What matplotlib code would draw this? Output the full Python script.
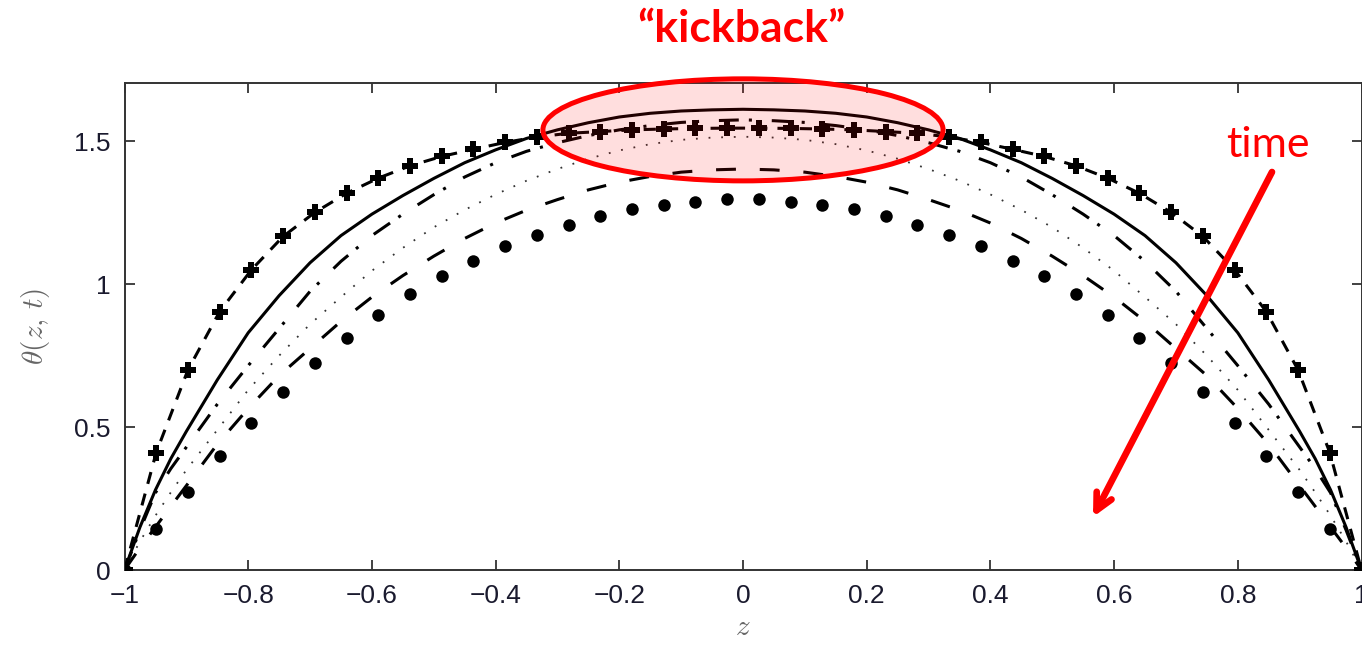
import numpy as np
import matplotlib
matplotlib.use("Agg")
import matplotlib.pyplot as plt
from matplotlib.patches import Ellipse

plt.rcParams['font.family'] = ['Liberation Sans', 'DejaVu Sans']
plt.rcParams['mathtext.fontset'] = 'cm'

# ---- data ----
# marker series are sampled on 40 evenly spaced z values
z_markers = np.linspace(-1, 1, 40)
theta_plus = [0, 0.411, 0.700, 0.904, 1.050, 1.167, 1.251, 1.318, 1.371, 1.414,
              1.447, 1.472, 1.496, 1.515, 1.528, 1.534, 1.540, 1.543, 1.545, 1.546,
              1.546, 1.545, 1.543, 1.540, 1.534, 1.528, 1.515, 1.496, 1.472, 1.447,
              1.414, 1.371, 1.318, 1.251, 1.167, 1.050, 0.904, 0.700, 0.411, 0]
theta_dots = [0, 0.142, 0.274, 0.399, 0.513, 0.624, 0.723, 0.812, 0.893, 0.965,
              1.027, 1.082, 1.132, 1.173, 1.208, 1.237, 1.262, 1.278, 1.289, 1.297,
              1.297, 1.289, 1.278, 1.262, 1.237, 1.208, 1.173, 1.132, 1.082, 1.027,
              0.965, 0.893, 0.812, 0.723, 0.624, 0.513, 0.399, 0.274, 0.142, 0]

# line series (z values with extra samples near the ends)
z_lines = [-1, -0.975, -0.95, -0.925, -0.9, -0.85, -0.8, -0.75, -0.7, -0.65, -0.6,
           -0.55, -0.5, -0.45, -0.4, -0.35, -0.3, -0.25, -0.2, -0.15, -0.1, -0.05,
           0, 0.05, 0.1, 0.15, 0.2, 0.25, 0.3, 0.35, 0.4, 0.45, 0.5, 0.55, 0.6,
           0.65, 0.7, 0.75, 0.8, 0.85, 0.9, 0.925, 0.95, 0.975, 1]
theta_solid = [0, 0.15, 0.28, 0.39, 0.485, 0.665, 0.83, 0.96, 1.075, 1.17, 1.245,
               1.31, 1.37, 1.425, 1.47, 1.51, 1.54, 1.565, 1.585, 1.598, 1.606, 1.61,
               1.612, 1.61, 1.606, 1.598, 1.585, 1.565, 1.54, 1.51, 1.47, 1.425, 1.37,
               1.31, 1.245, 1.17, 1.075, 0.96, 0.83, 0.665, 0.485, 0.39, 0.28, 0.15, 0]
theta_dashdot = [0, 0.14, 0.27, 0.355, 0.43, 0.58, 0.715, 0.845, 0.975, 1.08, 1.17,
                 1.245, 1.313, 1.375, 1.425, 1.465, 1.495, 1.52, 1.54, 1.555, 1.566,
                 1.572, 1.575, 1.572, 1.566, 1.555, 1.54, 1.52, 1.495, 1.465, 1.425,
                 1.375, 1.313, 1.245, 1.17, 1.08, 0.975, 0.845, 0.715, 0.58, 0.43,
                 0.355, 0.27, 0.14, 0]
theta_dotted = [0, 0.10, 0.19, 0.272, 0.35, 0.49, 0.63, 0.75, 0.86, 0.955, 1.047,
                1.127, 1.199, 1.26, 1.314, 1.362, 1.403, 1.439, 1.468, 1.49, 1.505,
                1.513, 1.516, 1.513, 1.505, 1.49, 1.468, 1.439, 1.403, 1.362, 1.314,
                1.26, 1.199, 1.127, 1.047, 0.955, 0.86, 0.75, 0.63, 0.49, 0.35,
                0.272, 0.19, 0.10, 0]
theta_dashed = [0, 0.078, 0.15, 0.223, 0.295, 0.44, 0.565, 0.68, 0.775, 0.87, 0.955,
                1.03, 1.098, 1.16, 1.214, 1.259, 1.296, 1.33, 1.357, 1.377, 1.392,
                1.40, 1.403, 1.40, 1.392, 1.377, 1.357, 1.33, 1.296, 1.259, 1.214,
                1.16, 1.098, 1.03, 0.955, 0.87, 0.775, 0.68, 0.565, 0.44, 0.295,
                0.223, 0.15, 0.078, 0]

xticks = [-1, -0.8, -0.6, -0.4, -0.2, 0, 0.2, 0.4, 0.6, 0.8, 1]
xticklabels = ['\u22121', '\u22120.8', '\u22120.6', '\u22120.4', '\u22120.2', '0',
               '0.2', '0.4', '0.6', '0.8', '1']
yticks = [0, 0.5, 1, 1.5]
yticklabels = ['0', '0.5', '1', '1.5']

# ---- figure ----
W, H = 1362, 658
fig = plt.figure(figsize=(W / 100, H / 100), dpi=100)
ax = fig.add_axes([124.5 / W, 1 - 570 / H, 1237 / W, (570 - 82.7) / H])

LW = 2.2
ax.plot(z_lines, theta_solid, color='black', lw=LW, ls='-', zorder=3)
ax.plot(z_lines, theta_dashdot, color='black', lw=LW, ls=(0, (6.5, 3.3, 1, 6.5)), zorder=3)
ax.plot(z_lines, theta_dotted, color='#333333', lw=1.3, ls=(0, (1, 6)), zorder=3)
ax.plot(z_lines, theta_dashed, color='black', lw=LW, ls=(0, (6.5, 7.8)), zorder=3)
ax.plot(z_markers, theta_plus, color='black', lw=LW, ls=(0, (4, 3.3)),
        marker='P', markersize=12, markeredgewidth=0, zorder=4)
ax.plot(z_markers, theta_dots, color='black', ls='none',
        marker='o', markersize=9, markeredgewidth=0, zorder=4)

ax.set_xlim(-1, 1)
ax.set_ylim(0, 1.705)
ax.set_xticks(xticks)
ax.set_xticklabels(xticklabels)
ax.set_yticks(yticks)
ax.set_yticklabels(yticklabels)
ax.tick_params(direction='in', length=7.5, width=1.3, top=True, right=True,
               labelsize=19, labelcolor='#1a1a2e', color='#333333', pad=10)
for s in ax.spines.values():
    s.set_linewidth(1.4)
    s.set_color('#333333')

ax.set_xlabel(r'$z$', fontsize=21, color='#666666', labelpad=4)
ax.set_ylabel(r'$\theta(z,\,t)$', fontsize=21, color='#666666', labelpad=16)

# ---- annotations ----
ell = Ellipse((0.0, 1.54), 0.647, 0.357, facecolor=(1.0, 0.0, 0.0, 0.13),
              edgecolor='red', lw=3.6, clip_on=False, zorder=6)
ax.add_patch(ell)

fig.text(741 / W, 1 - 29 / H, '\u201ckickback\u201d', color='red', fontsize=32,
         fontweight='bold', family=['Lato', 'DejaVu Sans'], ha='center', va='center')
fig.text(1268 / W, 1 - 145 / H, 'time', color='red', fontsize=31,
         family=['Lato', 'DejaVu Sans'], ha='center', va='center')

ax.annotate('', xy=(1093 / W, 1 - 517 / H), xycoords='figure fraction',
            xytext=(1272 / W, 1 - 172 / H), textcoords='figure fraction',
            arrowprops=dict(arrowstyle='->,head_length=1.2,head_width=0.6',
                            color='red', lw=4.8, shrinkA=0, shrinkB=0),
            zorder=7, annotation_clip=False)

fig.savefig('out.png', dpi=100)
